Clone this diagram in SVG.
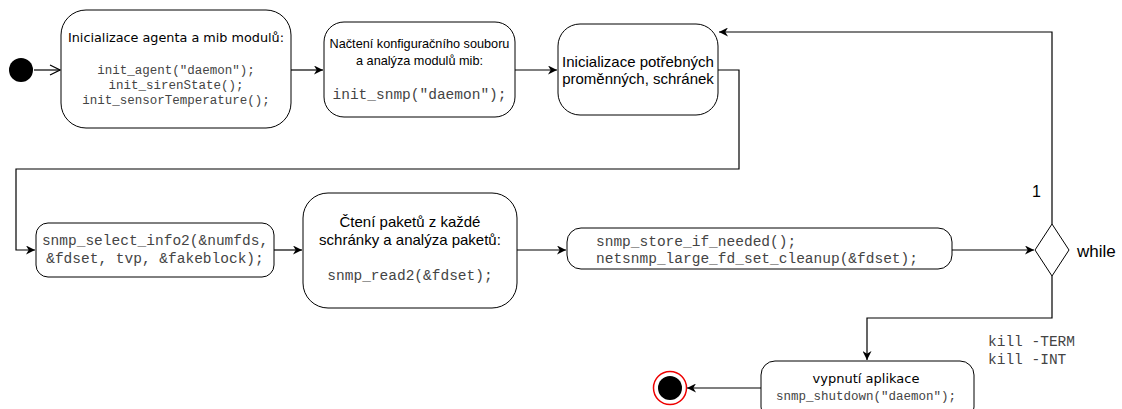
<svg xmlns="http://www.w3.org/2000/svg" width="1122" height="409" viewBox="0 0 1122 409">
<defs>
<marker id="arr" viewBox="0 0 10 10" refX="10" refY="5" markerWidth="9" markerHeight="9" markerUnits="userSpaceOnUse" orient="auto">
<path d="M0,0 L10,5 L0,10 L3,5 Z" fill="#000"/>
</marker>
<marker id="open" viewBox="0 0 12 12" refX="11" refY="6" markerWidth="12" markerHeight="12" markerUnits="userSpaceOnUse" orient="auto">
<path d="M1,1 L11,6 L1,11" fill="none" stroke="#000" stroke-width="1.2"/>
</marker>
</defs>
<style>
.box{fill:#fff;stroke:#000;stroke-width:1}
.ln{fill:none;stroke:#000;stroke-width:1.2}
.dv{font-family:"DejaVu Sans",sans-serif;fill:#000}
.sa{font-family:"Liberation Sans",Arial,sans-serif;fill:#000}
.mo{font-family:"Liberation Mono","Courier New",monospace;fill:#444}
</style>
<rect width="1122" height="409" fill="#fff"/>
<g id="start"><circle cx="21" cy="70" r="12" fill="#000"/></g>
<g id="n1">
<rect class="box" x="61" y="10" width="230" height="118" rx="25" ry="25"/>
<text class="dv" x="176" y="42" font-size="12.8" text-anchor="middle">Inicializace agenta a mib modulů:</text>
<text class="mo" x="176" y="74" font-size="12.5" text-anchor="middle">init_agent("daemon");</text>
<text class="mo" x="176" y="89" font-size="12.5" text-anchor="middle">init_sirenState();</text>
<text class="mo" x="176" y="104" font-size="12.5" text-anchor="middle">init_sensorTemperature();</text>
</g>
<g id="n2">
<rect class="box" x="324" y="22" width="191" height="95" rx="20" ry="20"/>
<text class="sa" x="419.5" y="48" font-size="12.7" text-anchor="middle">Načtení konfiguračního souboru</text>
<text class="sa" x="419.5" y="65" font-size="12.7" text-anchor="middle">a analýza modulů mib:</text>
<text class="mo" x="419.5" y="99" font-size="14.5" text-anchor="middle">init_snmp("daemon");</text>
</g>
<g id="n3">
<rect class="box" x="558" y="24" width="160" height="91" rx="22" ry="22"/>
<text class="sa" x="638" y="67" font-size="15" text-anchor="middle">Inicializace potřebných</text>
<text class="sa" x="638" y="84" font-size="15" text-anchor="middle">proměnných, schránek</text>
</g>
<g id="n4">
<rect class="box" x="36" y="223" width="238" height="54" rx="12" ry="12"/>
<text class="mo" x="155" y="245" font-size="14.5" text-anchor="middle">snmp_select_info2(&amp;numfds,</text>
<text class="mo" x="155" y="263" font-size="14.5" text-anchor="middle"> &amp;fdset, tvp, &amp;fakeblock);</text>
</g>
<g id="n5">
<rect class="box" x="303" y="193" width="214" height="115" rx="25" ry="25"/>
<text class="sa" x="410" y="227" font-size="15" text-anchor="middle">Čtení paketů z každé</text>
<text class="sa" x="410" y="245" font-size="15" text-anchor="middle">schránky a analýza paketů:</text>
<text class="mo" x="410" y="280" font-size="14.5" text-anchor="middle">snmp_read2(&amp;fdset);</text>
</g>
<g id="n6">
<rect class="box" x="567" y="228" width="385" height="41" rx="14" ry="14"/>
<text class="mo" x="596" y="246" font-size="14.5">snmp_store_if_needed();</text>
<text class="mo" x="596" y="263" font-size="14.5">netsnmp_large_fd_set_cleanup(&amp;fdset);</text>
</g>
<g id="decision">
<path class="box" d="M1052,224 L1069,250 L1052,276 L1035,250 Z"/>
<text class="sa" x="1077" y="257" font-size="17">while</text>
</g>
<g id="n7">
<rect class="box" x="761" y="361" width="213" height="60" rx="14" ry="14"/>
<text class="dv" x="866" y="383" font-size="13" text-anchor="middle">vypnutí aplikace</text>
<text class="mo" x="866" y="400" font-size="12.5" text-anchor="middle">snmp_shutdown("daemon");</text>
</g>
<g id="end">
<circle cx="670" cy="388" r="16.5" fill="#fff" stroke="#e00" stroke-width="1.5"/>
<circle cx="670" cy="388" r="12" fill="#000"/>
</g>
<g id="connectors">
<line class="ln" x1="34" y1="70" x2="60" y2="70" marker-end="url(#open)"/>
<line class="ln" x1="291" y1="70" x2="323" y2="70" marker-end="url(#arr)"/>
<line class="ln" x1="515" y1="70" x2="557" y2="70" marker-end="url(#arr)"/>
<polyline class="ln" points="718,70 739,70 739,169 16,169 16,250 35,250" marker-end="url(#arr)"/>
<line class="ln" x1="274" y1="250" x2="302" y2="250" marker-end="url(#arr)"/>
<line class="ln" x1="517" y1="250" x2="566" y2="250" marker-end="url(#arr)"/>
<line class="ln" x1="952" y1="250" x2="1034" y2="250" marker-end="url(#arr)"/>
<polyline class="ln" points="1052,224 1052,32 719,32" marker-end="url(#arr)"/>
<polyline class="ln" points="1052,276 1052,318 867,318 867,360" marker-end="url(#arr)"/>
<line class="ln" x1="761" y1="388" x2="687" y2="388" marker-end="url(#arr)"/>
<text class="sa" x="1032" y="197" font-size="16">1</text>
<text class="mo" x="988" y="346" font-size="14.5">kill -TERM</text>
<text class="mo" x="988" y="364" font-size="14.5">kill -INT</text>
</g>
</svg>
